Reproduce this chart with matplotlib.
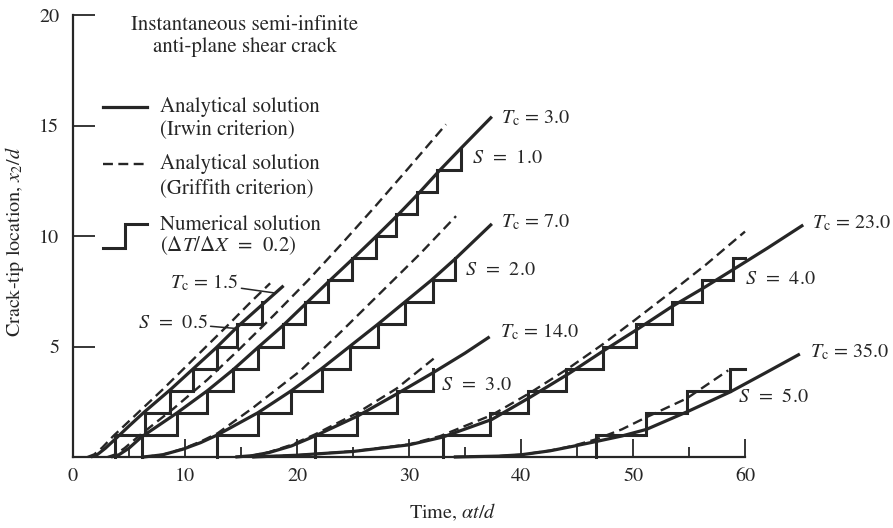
import numpy as np
import matplotlib.pyplot as plt
from matplotlib.lines import Line2D

plt.rcParams['font.family'] = 'STIXGeneral'
plt.rcParams['mathtext.fontset'] = 'stix'

INK = '#262626'

# analytical solution, Irwin criterion (solid lines): time, crack-tip location
irwin_15_t = [1.6, 2.2, 2.9, 3.75, 5.0, 6.4, 8.7, 10.75, 12.8, 14.7, 16.8, 18.8]
irwin_15_x = [0.0, 0.12, 0.4, 0.8, 1.4, 2.05, 3.05, 4.0, 4.95, 5.9, 6.85, 7.75]
irwin_30_t = [3.4, 4.1, 5.0, 6.1, 7.7, 9.3, 12.0, 14.3, 16.5, 18.75, 20.8, 22.85,
              24.95, 27.0, 29.0, 30.9, 32.7, 34.6, 37.4]
irwin_30_x = [0.0, 0.1, 0.4, 0.9, 1.45, 2.0, 3.0, 3.95, 4.95, 5.95, 6.95, 7.95,
              8.95, 9.95, 10.95, 11.95, 12.95, 13.95, 15.4]
irwin_70_t = [6.3, 8.0, 9.8, 11.4, 12.9, 16.5, 19.5, 22.2, 24.7, 27.2, 29.6, 32.0, 34.2, 37.4]
irwin_70_x = [0.0, 0.1, 0.35, 0.65, 1.0, 2.0, 3.0, 4.0, 5.0, 6.0, 7.0, 8.0, 9.0, 10.55]
irwin_140_t = [14.5, 16.0, 17.5, 19.5, 21.6, 25.4, 28.9, 32.1, 35.0, 37.2]
irwin_140_x = [0.0, 0.06, 0.2, 0.5, 0.95, 1.85, 2.85, 3.8, 4.7, 5.44]
irwin_230_t = [16.0, 20.0, 25.0, 30.0, 33.0, 37.4, 40.8, 44.2, 47.35, 50.3, 53.45,
               56.3, 59.0, 62.0, 65.2]
irwin_230_x = [0.0, 0.08, 0.25, 0.55, 0.9, 1.7, 2.7, 3.75, 4.8, 5.75, 6.8,
               7.65, 8.5, 9.45, 10.5]
irwin_350_t = [34.0, 38.0, 40.0, 42.6, 44.6, 46.7, 49.0, 51.2, 54.85, 58.7, 61.8, 64.9]
irwin_350_x = [0.0, 0.04, 0.1, 0.28, 0.48, 0.7, 0.95, 1.25, 2.05, 2.95, 3.8, 4.66]

# analytical solution, Griffith criterion (dashed lines)
griff_05_t = [1.3, 1.9, 2.6, 3.6, 5.9, 8.0, 9.9, 11.9, 13.9, 15.85, 17.6]
griff_05_x = [0.0, 0.12, 0.42, 0.95, 2.05, 3.05, 4.0, 5.0, 6.0, 7.0, 7.86]
griff_10_t = [3.1, 3.8, 4.6, 6.0, 9.0, 12.0, 15.0, 18.0, 21.0, 24.0, 27.0, 30.0, 33.3]
griff_10_x = [0.0, 0.12, 0.4, 1.0, 2.2, 3.5, 4.95, 6.45, 8.0, 9.65, 11.35, 13.1, 15.05]
griff_20_t = [6.3, 8.0, 9.8, 11.4, 12.9, 16.0, 20.3, 24.0, 28.0, 31.0, 34.2]
griff_20_x = [0.0, 0.1, 0.37, 0.7, 1.07, 2.2, 3.9, 5.7, 7.7, 9.2, 10.9]
griff_30_t = [14.5, 16.0, 17.5, 19.5, 21.6, 25.4, 28.9, 32.2]
griff_30_x = [0.0, 0.06, 0.22, 0.55, 1.02, 2.0, 3.1, 4.45]
griff_40_t = [16.0, 20.0, 25.0, 30.0, 32.8, 37.4, 40.8, 44.2, 47.3, 50.3, 53.5, 56.5, 60.0]
griff_40_x = [0.0, 0.08, 0.26, 0.57, 0.95, 1.9, 2.9, 4.0, 5.1, 6.25, 7.5, 8.7, 10.2]
griff_50_t = [34.0, 38.0, 40.0, 42.6, 44.6, 46.7, 49.0, 51.2, 54.8, 58.5]
griff_50_x = [0.0, 0.04, 0.1, 0.29, 0.5, 0.8, 1.25, 1.8, 2.65, 3.92]

# numerical solution: times at which the tip jumps one cell (x2/d += 1)
num_05_t = [3.75, 6.43, 8.7, 10.74, 12.83, 14.65, 16.85]
num_10_t = [6.13, 9.3, 12.0, 14.3, 16.5, 18.75, 20.75, 22.8, 24.9, 27.05, 28.8, 30.7, 32.5, 34.6]
num_20_t = [12.9, 16.5, 19.5, 22.2, 24.7, 27.2, 29.6, 32.1, 34.1]
num_30_t = [21.6, 25.4, 28.9, 32.1]
num_40_t = [33.0, 37.2, 40.6, 44.0, 47.3, 50.3, 53.5, 56.2, 58.9]
num_50_t = [46.7, 51.2, 54.8, 58.7]
num_end = [None, None, None, None, 60.0, 60.0]

irwin = [(irwin_15_t, irwin_15_x), (irwin_30_t, irwin_30_x), (irwin_70_t, irwin_70_x),
         (irwin_140_t, irwin_140_x), (irwin_230_t, irwin_230_x), (irwin_350_t, irwin_350_x)]
griff = [(griff_05_t, griff_05_x), (griff_10_t, griff_10_x), (griff_20_t, griff_20_x),
         (griff_30_t, griff_30_x), (griff_40_t, griff_40_x), (griff_50_t, griff_50_x)]
numer = [num_05_t, num_10_t, num_20_t, num_30_t, num_40_t, num_50_t]

tc_values = ['1.5', '3.0', '7.0', '14.0', '23.0', '35.0']
s_values = ['0.5', '1.0', '2.0', '3.0', '4.0', '5.0']
tc_labels = [r'$T_{\mathrm{c}}\,=\,' + v + '$' for v in tc_values]
s_labels = [r'$S$' + '  =  ' + v for v in s_values]
tc_label_pos = [(8.66, 7.87), (38.2, 15.34), (38.2, 10.63), (38.1, 5.66), (66.0, 10.59), (65.8, 4.75)]
s_label_pos = [(5.8, 6.06), (35.6, 13.53), (35.0, 8.46), (32.9, 3.26), (60.0, 8.05), (59.4, 2.71)]
# leader lines of the two crowded labels point here
tc_leader_to = (17.9, 7.43)
s_leader_to = (14.46, 5.82)

fig = plt.figure(figsize=(8.93, 5.28), dpi=100)
ax = fig.add_axes([73 / 893, 71 / 528, 806.4 / 893, 453.05 / 528])
ax.set_xlim(0, 72)
ax.set_ylim(0, 20.5)

for t, x in irwin:
    ax.plot(t, x, color=INK, lw=2.3, solid_capstyle='butt', clip_on=False)
for t, x in griff:
    ax.plot(t, x, color=INK, lw=1.7, dashes=(4.2, 2.3), clip_on=False)
for t, end in zip(numer, num_end):
    xs = np.r_[t[0], t]
    ys = np.arange(len(xs))
    if end is not None:
        xs = np.r_[xs, end]
        ys = np.r_[ys, ys[-1]]
    ax.step(xs, ys, where='post', color=INK, lw=2.2, solid_joinstyle='miter', clip_on=False)

lsize = 14.5
leader = dict(arrowstyle='-', color=INK, lw=1.1, shrinkA=0, shrinkB=0)
for i, (lab, (x, y)) in enumerate(zip(tc_labels, tc_label_pos)):
    if i == 0:
        ax.annotate(lab, xy=tc_leader_to, xytext=(x, y), fontsize=lsize, color=INK,
                    ha='left', va='center', arrowprops=leader)
    else:
        ax.text(x, y, lab, fontsize=lsize, color=INK, ha='left', va='center')
for i, (lab, (x, y)) in enumerate(zip(s_labels, s_label_pos)):
    if i == 0:
        ax.annotate(lab, xy=s_leader_to, xytext=(x, y), fontsize=lsize, color=INK,
                    ha='left', va='center', arrowprops=leader)
    else:
        ax.text(x, y, lab, fontsize=lsize, color=INK, ha='left', va='center')

# key drawn inside the plot, as in the original figure
ksize = 15
ax.text(15.36, 19.55, 'Instantaneous semi-infinite', fontsize=ksize, color=INK, ha='center', va='center')
ax.text(15.36, 18.55, 'anti-plane shear crack', fontsize=ksize, color=INK, ha='center', va='center')
ax.add_line(Line2D([2.7, 6.6], [15.85, 15.85], color=INK, lw=2.3))
ax.text(7.8, 15.85, 'Analytical solution', fontsize=ksize, color=INK, va='center')
ax.text(7.8, 14.84, '(Irwin criterion)', fontsize=ksize, color=INK, va='center')
ax.add_line(Line2D([2.7, 6.6], [13.26, 13.26], color=INK, lw=1.7, dashes=(4.2, 2.3)))
ax.text(7.8, 13.26, 'Analytical solution', fontsize=ksize, color=INK, va='center')
ax.text(7.8, 12.17, '(Griffith criterion)', fontsize=ksize, color=INK, va='center')
ax.add_line(Line2D([2.7, 4.64, 4.64, 6.6], [9.46, 9.46, 10.54, 10.54], color=INK, lw=2.2,
                   solid_joinstyle='miter'))
ax.text(7.8, 10.5, 'Numerical solution', fontsize=ksize, color=INK, va='center')
ax.text(7.8, 9.55, r'($\Delta T/\Delta X$  =  0.2)', fontsize=ksize, color=INK, va='center')

for side in ('top', 'right'):
    ax.spines[side].set_visible(False)
ax.spines['left'].set_bounds(0, 20)
ax.spines['bottom'].set_bounds(0, 60)
for side in ('left', 'bottom'):
    ax.spines[side].set_linewidth(1.6)
    ax.spines[side].set_color(INK)

ax.set_xticks(range(0, 61, 10))
ax.set_xticks(range(5, 60, 10), minor=True)
ax.set_yticks([5, 10, 15, 20])
ax.tick_params(axis='x', which='major', direction='in', length=13, width=1.3, pad=8,
               labelsize=14.5, colors=INK)
ax.tick_params(axis='x', which='minor', direction='in', length=7, width=1.3, colors=INK)
ax.tick_params(axis='y', direction='in', length=16, width=1.3, pad=10, labelsize=14.5, colors=INK)

ax.set_xlabel(r'Time, $\alpha t/d$', fontsize=14.5, color=INK)
ax.xaxis.set_label_coords((453 - 73) / 806.4, -(502 - 457) / 453.05)
ax.set_ylabel(r'Crack-tip location, $x_2/d$', fontsize=14.5, color=INK)
ax.yaxis.set_label_coords(-(73 - 26) / 806.4, (457 - 241) / 453.05)

fig.savefig('out.png', dpi=100, facecolor='white')
